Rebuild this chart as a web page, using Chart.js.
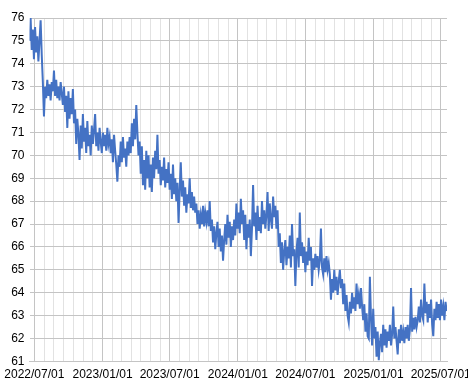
<!DOCTYPE html>
<html>
<head>
<meta charset="utf-8">
<script src="https://cdn.jsdelivr.net/npm/chart.js@4"></script>
<style>
  html, body { margin: 0; padding: 0; background: #fff; }
  canvas { display: block; }
</style>
</head>
<body>
<canvas id="chart" width="468" height="389"></canvas>
<script>
// ================= DATA =================
const tickLabels = ["2022/07/01", "2023/01/01", "2023/07/01", "2024/01/01", "2024/07/01", "2025/01/01", "2025/07/01"];
const firstDay = -13;   // series starts a little before 2022/07/01
const stepDays = 3;     // one reading every 3 days
const lastDay = 1113;
const values = [
  75.0, 76.0, 74.6, 75.5, 74.2, 75.6, 74.5, 75.2, 74.1, 75.0,
  75.9, 74.4, 73.2, 71.7, 73.0, 72.5, 73.3, 72.6, 73.1, 72.4,
  73.2, 72.8, 73.7, 72.6, 73.3, 72.5, 73.0, 72.4, 73.2, 72.7,
  72.2, 73.0, 71.9, 72.6, 71.2, 72.8, 71.6, 72.5, 71.8, 72.9,
  71.4, 72.0, 70.5, 71.6, 70.9, 69.8, 71.3, 70.3, 71.8, 70.6,
  71.2, 70.1, 71.5, 70.4, 70.9, 70.0, 71.3, 70.5, 71.1, 71.8,
  70.4, 71.0, 70.2, 71.2, 70.6, 70.1, 71.0, 70.4, 70.9, 70.2,
  71.2, 70.5, 70.8, 70.1, 70.7, 69.7, 70.9, 70.2, 69.6, 68.85,
  70.0, 69.5, 70.6, 69.7, 70.8, 69.9, 70.3, 69.5, 70.6, 70.0,
  70.8, 70.1, 71.4, 70.4, 71.6, 70.7, 72.2, 71.0, 70.0, 70.6,
  69.2, 70.4, 68.7, 69.8, 68.5, 70.2, 69.0, 70.0, 68.6, 69.6,
  68.4, 69.9, 69.0, 70.2, 69.4, 70.9, 69.2, 69.8, 68.7, 69.5,
  68.9, 69.9, 68.6, 69.4, 68.8, 69.7, 68.5, 69.2, 68.1, 69.6,
  68.3, 69.0, 68.0, 68.8, 67.05, 68.5, 69.7, 68.2, 68.9, 67.8,
  68.6, 67.5, 68.3, 67.9, 69.0, 67.7, 68.4, 67.6, 68.2, 67.5,
  67.9, 67.0, 67.6, 66.8, 67.4, 67.0, 67.8, 66.9, 67.5, 67.1,
  67.6, 66.9, 68.0, 66.7, 67.2, 66.2, 66.9, 65.9, 66.6, 67.1,
  66.0, 66.8, 65.8, 66.5, 65.4, 66.3, 67.0, 66.1, 67.4, 66.4,
  67.1, 66.0, 66.9, 66.3, 67.2, 66.5, 67.9, 66.8, 67.5, 66.6,
  68.1, 67.0, 67.6, 66.3, 67.4, 65.9, 67.0, 66.4, 67.2, 65.6,
  66.8, 68.7, 66.9, 67.5, 66.3, 67.8, 66.7, 67.3, 66.6, 68.0,
  67.0, 67.6, 66.8, 67.4, 68.4, 66.7, 67.9, 67.2, 66.8, 68.2,
  67.3, 67.8, 66.8, 67.6, 66.0, 66.6, 65.3, 66.2, 65.0, 65.8,
  66.3, 65.2, 66.0, 65.5, 66.5, 65.1, 67.0, 65.6, 65.9, 64.3,
  65.8, 66.4, 65.1, 67.5, 65.6, 66.2, 65.3, 66.0, 64.9, 65.8,
  65.2, 66.4, 65.4, 66.0, 64.3, 65.5, 65.0, 65.7, 65.1, 65.6,
  65.0, 65.4, 66.8, 65.1, 64.8, 65.5, 64.9, 65.6, 65.0, 65.3,
  64.8, 63.7, 64.6, 64.0, 65.0, 64.1, 64.7, 63.9, 64.5, 65.0,
  64.2, 64.6, 63.5, 64.4, 63.2, 63.9, 63.0, 62.7, 63.6, 63.1,
  64.0, 63.3, 63.8, 63.2, 64.4, 63.5, 63.9, 63.3, 64.2, 63.4,
  62.8, 63.5, 62.3, 63.1, 62.1, 62.0, 64.7, 62.9, 61.7, 63.3,
  62.0, 62.5, 61.2, 62.3, 61.05, 61.8, 62.2, 61.4, 62.6, 61.7,
  62.4, 61.6, 62.3, 61.9, 62.6, 61.7, 62.2, 63.4, 62.0, 62.5,
  61.9, 61.3, 62.4, 61.8, 62.6, 61.9, 62.3, 61.8, 62.5, 62.0,
  62.6, 61.9, 62.4, 64.2, 62.3, 62.9, 62.4, 62.95, 62.5, 62.8,
  63.4, 62.7, 63.7, 63.0, 62.8, 64.4, 63.1, 63.6, 62.7, 63.5,
  62.9, 63.7, 62.6, 62.1, 63.3, 62.8, 63.6, 62.9, 63.5, 62.8,
  63.7, 63.0, 63.4, 62.8, 63.6, 63.2
];

// ================= HELPERS =================
function daysFromStart(label) {
  const [y, m, d] = label.split("/").map(Number);
  return (Date.UTC(y, m - 1, d) - Date.UTC(2022, 6, 1)) / 864e5;
}

const majorDays = tickLabels.map(daysFromStart);
const tickDays = [];
majorDays.forEach((day, i) => {
  tickDays.push(day);
  const next = majorDays[i + 1];
  if (next !== undefined) {
    for (let k = 1; k < 7; k++) tickDays.push(day + (next - day) * k / 7);
  }
});

const points = values.map((v, i) => ({ x: firstDay + i * stepDays, y: v }));

// ================= CHART =================
const ctx = document.getElementById("chart").getContext("2d");
new Chart(ctx, {
  type: "line",
  data: {
    datasets: [{
      data: points,
      borderColor: "#4472c4",
      borderWidth: 2,
      pointRadius: 0,
      tension: 0,
      fill: false
    }]
  },
  options: {
    responsive: false,
    animation: false,
    layout: { padding: { top: 18, right: 21, left: 0, bottom: 0 } },
    plugins: { legend: { display: false }, tooltip: { enabled: false } },
    scales: {
      x: {
        type: "linear",
        min: firstDay,
        max: lastDay,
        afterBuildTicks: scale => { scale.ticks = tickDays.map(v => ({ value: v })); },
        afterFit: scale => { scale.height = 27.6; scale.paddingLeft = 0; scale.paddingRight = 0; },
        ticks: {
          autoSkip: false,
          maxRotation: 0,
          minRotation: 0,
          padding: 6,
          color: "#000",
          font: { family: "'Liberation Sans', Arial, sans-serif", size: 12 },
          callback: value => {
            const idx = majorDays.indexOf(value);
            return idx >= 0 ? tickLabels[idx] : "";
          }
        },
        grid: {
          drawTicks: false,
          color: c => majorDays.includes(c.tick && c.tick.value) ? "#c4c4c4" : "#e2e2e2",
          lineWidth: 1
        },
        border: { display: true, color: "#c4c4c4" }
      },
      y: {
        min: 61,
        max: 76,
        afterFit: scale => { scale.width = 29.5; scale.paddingTop = 0; scale.paddingBottom = 0; },
        ticks: {
          stepSize: 1,
          padding: 5,
          color: "#000",
          font: { family: "'Liberation Sans', Arial, sans-serif", size: 12 }
        },
        grid: { drawTicks: false, color: "#c4c4c4", lineWidth: 1 },
        border: { display: false }
      }
    }
  }
});
</script>
</body>
</html>
